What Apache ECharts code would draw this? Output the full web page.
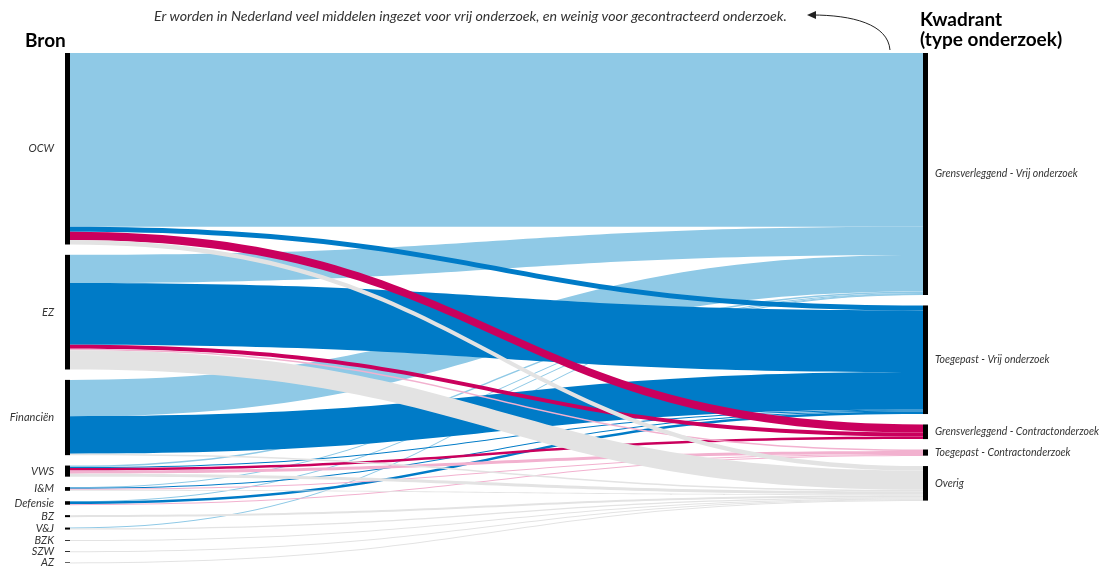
<!DOCTYPE html>
<html lang="nl">
<head>
<meta charset="utf-8">
<title>Bron en kwadrant</title>
<script src="https://cdn.jsdelivr.net/npm/echarts@6/dist/echarts.min.js"></script>
<style>
  html, body { margin: 0; padding: 0; background: #fff; }
  #chart { width: 1111px; height: 569px; }
</style>
</head>
<body>
<div id="chart"></div>
<script>
// bronnen (ministeries), links in het figuur
const bronnen = ['OCW', 'EZ', 'Financiën', 'VWS', 'I&M', 'Defensie', 'BZ', 'V&J', 'BZK', 'SZW', 'AZ'];

// kwadranten, rechts in het figuur
const kwadranten = [
  'Grensverleggend - Vrij onderzoek',
  'Toegepast - Vrij onderzoek',
  'Grensverleggend - Contractonderzoek',
  'Toegepast - Contractonderzoek',
  'Overig'
];

const grensVrij = [172, 28, 36, 1.5, 0.7, 0.4, 0, 1, 0, 0, 0];
const toegepastVrij = [5, 61, 37, 1, 1, 2.5, 0, 0, 0, 0, 0];
const grensContract = [8, 4, 0, 2.5, 0, 0, 0, 0, 0, 0, 0];
const toegepastContract = [0, 1.5, 0, 3, 1, 0.6, 0, 0, 0, 0, 0];
const overig = [4.5, 19, 1.5, 3, 1, 0, 2, 1, 0.8, 0.8, 0.6];

const annotatie = 'Er worden in Nederland veel middelen ingezet voor vrij onderzoek, en weinig voor gecontracteerd onderzoek.';

(function () {
  const chart = echarts.init(document.getElementById('chart'));

  const perKwadrant = [grensVrij, toegepastVrij, grensContract, toegepastContract, overig];
  const kleuren = ['#8fc9e6', '#007bc7', '#ca005d', '#f2b1cf', '#e3e3e3'];
  const font = 'Lato, "Open Sans", sans-serif';

  const nodes = [];
  bronnen.forEach((naam) => {
    nodes.push({
      name: naam,
      label: { position: 'left', distance: 11, fontSize: 11 }
    });
  });
  kwadranten.forEach((naam) => {
    nodes.push({
      name: naam,
      label: { position: 'right', distance: 7, fontSize: 10.5 }
    });
  });

  const links = [];
  perKwadrant.forEach((waarden, k) => {
    waarden.forEach((v, i) => {
      if (v > 0) {
        links.push({
          source: bronnen[i],
          target: kwadranten[k],
          value: v,
          lineStyle: { color: kleuren[k] }
        });
      }
    });
  });

  const option = {
    backgroundColor: '#fff',
    animation: false,
    textStyle: { fontFamily: font },
    graphic: [
      {
        type: 'text',
        left: 25,
        top: 31,
        style: { text: 'Bron', font: 'bold 19px ' + font, fill: '#000' }
      },
      {
        type: 'text',
        left: 920,
        top: 10,
        style: { text: 'Kwadrant\n(type onderzoek)', font: 'bold 19px ' + font, fill: '#000', lineHeight: 20 }
      },
      {
        type: 'text',
        left: 154,
        top: 9,
        style: { text: annotatie, font: 'italic 14.2px ' + font, fill: '#333' }
      },
      {
        type: 'bezierCurve',
        shape: { x1: 890, y1: 50, x2: 812, y2: 15, cpx1: 888, cpy1: 24, cpx2: 852, cpy2: 15 },
        style: { stroke: '#222', lineWidth: 1, fill: null }
      },
      {
        type: 'polygon',
        shape: { points: [[807, 15], [816, 11], [816, 19]] },
        style: { fill: '#222' }
      }
    ],
    series: [
      {
        type: 'sankey',
        left: 65,
        right: 183,
        top: 53,
        bottom: 6,
        nodeWidth: 5,
        nodeGap: 10.4,
        nodeAlign: 'justify',
        layoutIterations: 0,
        draggable: false,
        emphasis: { disabled: true },
        itemStyle: { color: '#000', borderWidth: 0 },
        lineStyle: { curveness: 0.5, opacity: 1 },
        label: {
          fontFamily: font,
          fontStyle: 'italic',
          color: '#333'
        },
        data: nodes,
        links: links
      }
    ]
  };

  chart.setOption(option);
  window.addEventListener('resize', () => chart.resize());
})();
</script>
</body>
</html>
